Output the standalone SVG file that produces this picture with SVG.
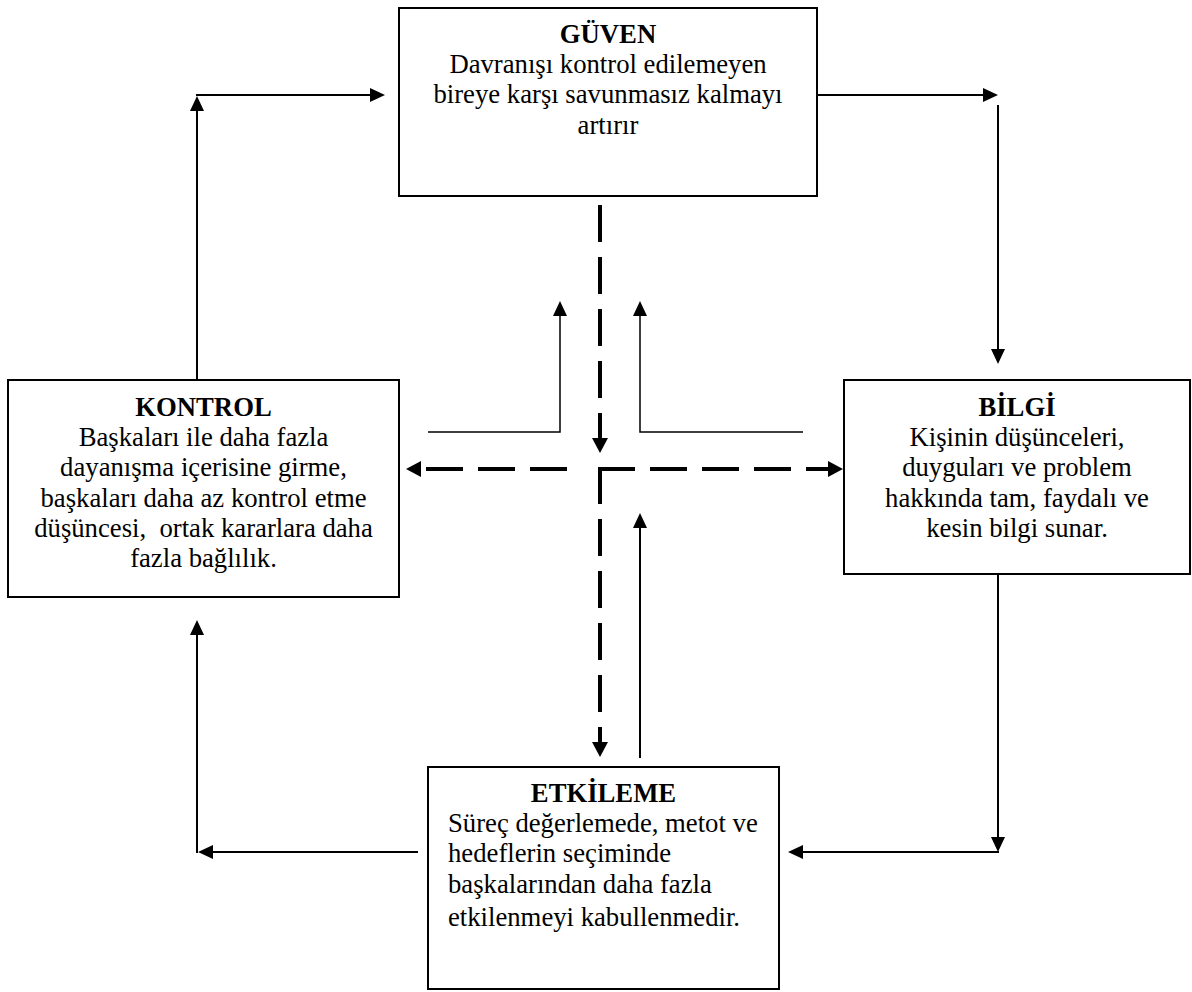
<svg xmlns="http://www.w3.org/2000/svg" width="1192" height="992" viewBox="0 0 1192 992">
<style>
.box{fill:#fff;stroke:#000;stroke-width:2}
text{font-family:"Liberation Serif","Times New Roman",serif;font-size:26.7px;fill:#000}
.t{font-weight:bold}
.c{text-anchor:middle}
.ln{fill:none;stroke:#000;stroke-width:2}
.thin{fill:none;stroke:#000;stroke-width:1.5}
.dash{fill:none;stroke:#000;stroke-width:4;stroke-dasharray:37 15}
</style>
<defs>
<marker id="ah" viewBox="0 -7 15 14" refX="0" refY="0" markerWidth="15" markerHeight="14" markerUnits="userSpaceOnUse" orient="auto">
<path d="M0,-7 L15,0 L0,7 z" fill="#000"/>
</marker>
<marker id="ahd" viewBox="0 -8 15 16" refX="0" refY="0" markerWidth="15" markerHeight="16" markerUnits="userSpaceOnUse" orient="auto">
<path d="M0,-8 L15,0 L0,8 z" fill="#000"/>
</marker>
</defs>
<g id="connectors">
<path class="ln" d="M197 380 V111" marker-end="url(#ah)"/>
<path class="ln" d="M196 95 H370" marker-end="url(#ah)"/>
<path class="ln" d="M817 95 H983" marker-end="url(#ah)"/>
<path class="ln" d="M998 105 V349" marker-end="url(#ah)"/>
<path class="ln" d="M998 574 V837" marker-end="url(#ah)"/>
<path class="ln" d="M999 852 H803" marker-end="url(#ah)"/>
<path class="ln" d="M418 852 H213" marker-end="url(#ah)"/>
<path class="ln" d="M197 853 V635" marker-end="url(#ah)"/>
<path class="thin" d="M428 432 H560 V316" marker-end="url(#ah)"/>
<path class="thin" d="M803 432 H640 V316" marker-end="url(#ah)"/>
<path class="ln" d="M640 758 V528" marker-end="url(#ah)"/>
<path class="dash" d="M600 205 V438" marker-end="url(#ahd)"/>
<path class="dash" d="M567 469 H421" marker-end="url(#ahd)"/>
<path class="dash" d="M598 469 H828" marker-end="url(#ahd)"/>
<path class="dash" d="M600 467 V742" marker-end="url(#ahd)"/>
</g>
<g id="guven">
<rect class="box" x="399" y="8" width="418" height="188"/>
<text class="c t" x="608" y="43">GÜVEN</text>
<text class="c" x="608" y="73">Davranışı kontrol edilemeyen</text>
<text class="c" x="608" y="103">bireye karşı savunmasız kalmayı</text>
<text class="c" x="608" y="134">artırır</text>
</g>
<g id="kontrol">
<rect class="box" x="8" y="380" width="391" height="217"/>
<text class="c t" x="203.5" y="416">KONTROL</text>
<text class="c" x="203.5" y="446">Başkaları ile daha fazla</text>
<text class="c" x="203.5" y="476">dayanışma içerisine girme,</text>
<text class="c" x="203.5" y="507">başkaları daha az kontrol etme</text>
<text class="c" x="203.5" y="537" xml:space="preserve">düşüncesi,  ortak kararlara daha</text>
<text class="c" x="203.5" y="567">fazla bağlılık.</text>
</g>
<g id="bilgi">
<rect class="box" x="844" y="380" width="346" height="194"/>
<text class="c t" x="1017" y="416">BİLGİ</text>
<text class="c" x="1017" y="446">Kişinin düşünceleri,</text>
<text class="c" x="1017" y="476">duyguları ve problem</text>
<text class="c" x="1017" y="507">hakkında tam, faydalı ve</text>
<text class="c" x="1017" y="537">kesin bilgi sunar.</text>
</g>
<g id="etkileme">
<rect class="box" x="428" y="767" width="351" height="222"/>
<text class="c t" x="603.5" y="802">ETKİLEME</text>
<text x="448" y="832">Süreç değerlemede, metot ve</text>
<text x="448" y="862">hedeflerin seçiminde</text>
<text x="448" y="893">başkalarından daha fazla</text>
<text x="448" y="926">etkilenmeyi kabullenmedir.</text>
</g>
</svg>
